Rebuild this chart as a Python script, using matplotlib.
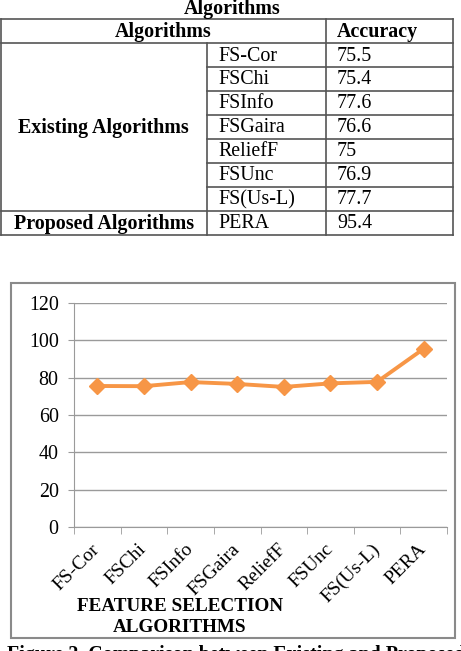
import matplotlib
matplotlib.use("Agg")
import matplotlib.pyplot as plt
from matplotlib.patches import Rectangle
from matplotlib.lines import Line2D

# ---- data ----
algorithms = ["FS-Cor", "FSChi", "FSInfo", "FSGaira", "ReliefF", "FSUnc", "FS(Us-L)", "PERA"]
accuracy = [75.5, 75.4, 77.6, 76.6, 75, 76.9, 77.7, 95.4]
acc_labels = ["75.5", "75.4", "77.6", "76.6", "75", "76.9", "77.7", "95.4"]
groups = ["Existing Algorithms", "Proposed Algorithms"]
table_title = "Algorithms"
header = ["Algorithms", "Accuracy"]
yticks = [0, 20, 40, 60, 80, 100, 120]
xlabel_text = "FEATURE SELECTION\nALGORITHMS"
caption = "Figure 2. Comparison between Existing and Proposed"

W, H = 461, 651
fig = plt.figure(figsize=(W / 100, H / 100), dpi=100)
SERIF = ["Liberation Serif", "DejaVu Serif"]
FS = 14.4
GRID = "#9a9a9a"
ORANGE = "#F79646"

# overlay axes in pixel coordinates for table / frame / captions
ov = fig.add_axes([0, 0, 1, 1])
ov.set_xlim(0, W)
ov.set_ylim(H, 0)
ov.axis("off")

# ---- table ----
tc = "#555555"
tlw = 1.2
row_y = [19, 43.3, 67, 90.7, 115, 138.7, 162.7, 186.7, 210.7, 235]
col_x = [0.5, 207, 326, 453]
ov.text(232, 9, table_title, family=SERIF, fontsize=FS, fontweight="bold",
        ha="center", va="center")
ov.add_line(Line2D([col_x[0], col_x[3]], [row_y[0], row_y[0]], color=tc, lw=tlw))
ov.add_line(Line2D([col_x[0], col_x[3]], [row_y[-1], row_y[-1]], color=tc, lw=tlw))
ov.add_line(Line2D([col_x[0], col_x[0]], [row_y[0], row_y[-1]], color=tc, lw=tlw))
ov.add_line(Line2D([col_x[3], col_x[3]], [row_y[0], row_y[-1]], color=tc, lw=tlw))
for yy in [row_y[1], row_y[8]]:
    ov.add_line(Line2D([col_x[0], col_x[3]], [yy, yy], color=tc, lw=tlw))
for yy in row_y[2:8]:
    ov.add_line(Line2D([col_x[1], col_x[3]], [yy, yy], color=tc, lw=tlw))
ov.add_line(Line2D([col_x[1], col_x[1]], [row_y[1], row_y[-1]], color=tc, lw=tlw))
ov.add_line(Line2D([col_x[2], col_x[2]], [row_y[0], row_y[-1]], color=tc, lw=tlw))

def cy(i):
    return (row_y[i] + row_y[i + 1]) / 2 + 1

ov.text((col_x[0] + col_x[2]) / 2, cy(0), header[0], family=SERIF, fontsize=FS,
        fontweight="bold", ha="center", va="center")
ov.text(col_x[2] + 11, cy(0), header[1], family=SERIF, fontsize=FS,
        fontweight="bold", ha="left", va="center")
for i, (name, lab) in enumerate(zip(algorithms, acc_labels)):
    ov.text(col_x[1] + 11, cy(i + 1), name, family=SERIF, fontsize=FS,
            ha="left", va="center")
    ov.text(col_x[2] + 11, cy(i + 1), lab, family=SERIF, fontsize=FS,
            ha="left", va="center")
ov.text((col_x[0] + col_x[1]) / 2, (row_y[1] + row_y[8]) / 2 + 1, groups[0],
        family=SERIF, fontsize=FS, fontweight="bold", ha="center", va="center")
ov.text((col_x[0] + col_x[1]) / 2, cy(8), groups[1],
        family=SERIF, fontsize=FS, fontweight="bold", ha="center", va="center")

# ---- chart frame ----
ov.add_patch(Rectangle((11, 283), 444, 355, fill=False, ec="#8a8a8a", lw=1.5))

# ---- chart ----
ax = fig.add_axes([74 / W, 1 - 527.3 / H, (447 - 74) / W, (527.3 - 302.7) / H])
x = list(range(len(algorithms)))
ax.plot(x, accuracy, color=ORANGE, lw=2.8, marker="D", markersize=8,
        markeredgecolor=ORANGE, markerfacecolor=ORANGE, zorder=3)
ax.set_xlim(-0.5, len(algorithms) - 0.5)
ax.set_ylim(0, 120)
ax.set_yticks(yticks)
ax.set_yticklabels([str(v) for v in yticks], family=SERIF, fontsize=FS)
ax.yaxis.grid(True, color=GRID, lw=1.0)
ax.set_axisbelow(True)
for s in ["top", "right"]:
    ax.spines[s].set_visible(False)
ax.spines["left"].set_color(GRID)
ax.spines["bottom"].set_color(GRID)
ax.tick_params(axis="y", length=4, color=GRID, pad=7)
ax.set_xticks(x)
ax.set_xticklabels(algorithms, family=SERIF, fontsize=14, rotation=45,
                   ha="right", va="center", rotation_mode="anchor")
ax.tick_params(axis="x", which="major", length=0, pad=14)
ax.set_xticks([i - 0.5 for i in range(len(algorithms) + 1)], minor=True)
ax.tick_params(axis="x", which="minor", length=5, color=GRID)

ov.text(180, 617, xlabel_text, family=SERIF, fontsize=13.8, fontweight="bold",
        ha="center", va="center", linespacing=1.25)
ov.text(7, 645, caption, family=SERIF, fontsize=FS, fontweight="bold",
        ha="left", va="top")

fig.savefig("out.png", dpi=100)
